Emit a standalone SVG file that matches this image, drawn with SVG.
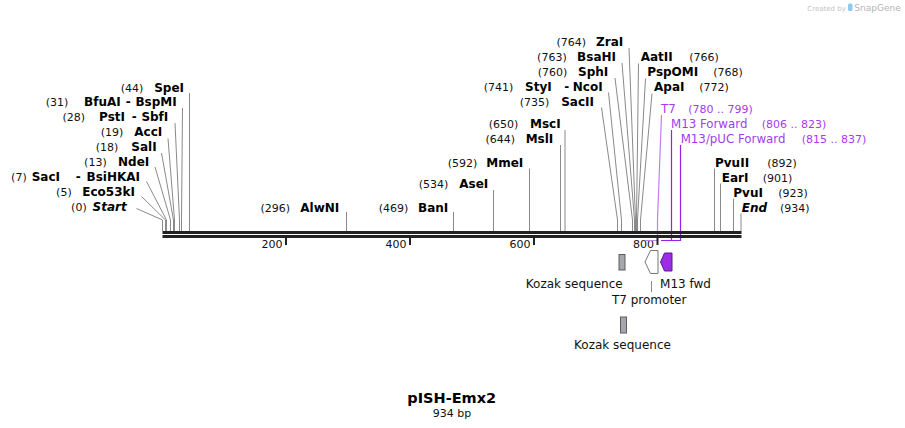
<svg xmlns="http://www.w3.org/2000/svg" width="905" height="428" viewBox="0 0 905 428">
<style>
text{font-family:"DejaVu Sans",Verdana,sans-serif}
.n{font-size:11px;fill:#111}
.b{font-size:12px;font-weight:bold;fill:#000}
.bi{font-size:12px;font-weight:bold;font-style:italic;fill:#000}
.e{text-anchor:end}
.m{text-anchor:middle}
.p{font-size:11px;fill:#a43bf0}
.pn{font-size:11.8px;fill:#a43bf0}
.f{font-size:12px;fill:#111;text-anchor:middle}
.site{fill:none;stroke:#8a8a8a;stroke-width:1}
.pt7{fill:none;stroke:#c27ef3;stroke-width:1.2}
.pm{fill:none;stroke:#9b1fe8;stroke-width:1.2}
.bb{fill:#222}
.tick{stroke:#222;stroke-width:2}
.kozak{fill:#a4a7ab;stroke:#5c5c5c;stroke-width:1}
</style>
<rect width="905" height="428" fill="#fff"/>

<g id="logo">
<text x="807.3" y="10.5" style="font-size:7px;fill:#c4c4c4">Created by</text>
<rect x="848" y="3.5" width="4.5" height="7.5" rx="1.5" fill="#8ccaf0"/>
<text x="854.3" y="10.7" style="font-size:9px;fill:#b4b4b4">SnapGene</text>
</g>

<g id="scale">
<text class="n e" x="282.5" y="248">200</text>
<text class="n e" x="406.5" y="248">400</text>
<text class="n e" x="530.5" y="248">600</text>
<text class="n e" x="654" y="248">800</text>
</g>

<g id="connectors">
<path class="site" d="M136.5,208.5 L162.5,220 V231"/>
<path class="site" d="M141.5,196.5 L165.5,220 V231"/>
<path class="site" d="M146.5,181.5 L166.5,220 V231"/>
<path class="site" d="M155,167 L170.5,220 V231"/>
<path class="site" d="M161.5,153 L173.5,220 V231"/>
<path class="site" d="M168,138.5 L174.5,220 V231"/>
<path class="site" d="M175,123 L179.5,220 V231"/>
<path class="site" d="M182.5,108 L181.5,220 V231"/>
<path class="site" d="M189.5,93 V231"/>
<path class="site" d="M346.5,212 V231"/>
<path class="site" d="M453.5,212 V231"/>
<path class="site" d="M493.5,190 V231"/>
<path class="site" d="M529.5,168.5 V231"/>
<path class="site" d="M560.5,145 V231"/>
<path class="site" d="M565,130 V231"/>
<path class="site" d="M601.5,107.5 L617.5,220 V231"/>
<path class="site" d="M608.5,92.5 L621.5,220 V231"/>
<path class="site" d="M615,78 L632.5,220 V231"/>
<path class="site" d="M622,63 L634.5,220 V231"/>
<path class="site" d="M629,48 L635.5,220 V231"/>
<path class="site" d="M638.5,63.5 L636.5,220 V231"/>
<path class="site" d="M645.5,78.5 L637.5,220 V231"/>
<path class="site" d="M652,93.5 L640.5,220 V231"/>
<path class="site" d="M714.5,168.5 V231"/>
<path class="site" d="M720.5,183.5 V231"/>
<path class="site" d="M733.5,198.5 V231"/>
<path class="site" d="M741,213.5 V231"/>
<path class="pt7" d="M661.5,115 L657.5,220 V240.5 H644.5"/>
<path class="pm" d="M671.5,130 V240.5 H661"/>
<path class="pm" d="M680.5,145 V240.5 H666"/>
<path class="site" d="M651.5,281 V292"/>
</g>

<g id="backbone">
<rect class="bb" x="162.5" y="231" width="579" height="3"/>
<rect class="bb" x="162.5" y="235" width="579" height="3"/>
<line class="tick" x1="286" y1="237" x2="286" y2="245"/>
<line class="tick" x1="410" y1="237" x2="410" y2="245"/>
<line class="tick" x1="534" y1="237" x2="534" y2="245"/>
<line class="tick" x1="657.5" y1="237" x2="657.5" y2="245"/>
</g>

<g id="site-Start"><text class="n e" x="86.7" y="211">(0)</text><text class="bi e" x="126.7" y="211">Start</text></g>
<g id="site-Eco53kI"><text class="n e" x="71.7" y="196">(5)</text><text class="b e" x="135" y="196">Eco53kI</text></g>
<g id="site-SacI"><text class="n e" x="26.7" y="181">(7)</text><text class="b e" x="60" y="181">SacI</text><text class="b m" x="78.3" y="181">-</text><text class="b e" x="140" y="181">BsiHKAI</text></g>
<g id="site-NdeI"><text class="n e" x="106.7" y="166">(13)</text><text class="b e" x="149.3" y="166">NdeI</text></g>
<g id="site-SalI"><text class="n e" x="118.3" y="151">(18)</text><text class="b e" x="156.7" y="151">SalI</text></g>
<g id="site-AccI"><text class="n e" x="123.3" y="136">(19)</text><text class="b e" x="162.3" y="136">AccI</text></g>
<g id="site-PstI"><text class="n e" x="85" y="121">(28)</text><text class="b e" x="125" y="121">PstI</text><text class="b m" x="134.2" y="121">-</text><text class="b e" x="168.3" y="121">SbfI</text></g>
<g id="site-BfuAI"><text class="n e" x="68.3" y="106">(31)</text><text class="b e" x="120.7" y="106">BfuAI</text><text class="b m" x="128.3" y="106">-</text><text class="b e" x="176.7" y="106">BspMI</text></g>
<g id="site-SpeI"><text class="n e" x="143.3" y="91.5">(44)</text><text class="b e" x="184" y="91.5">SpeI</text></g>

<g id="site-AlwNI"><text class="n e" x="290" y="211.5">(296)</text><text class="b e" x="339.3" y="211.5">AlwNI</text></g>
<g id="site-BanI"><text class="n e" x="408.3" y="211.5">(469)</text><text class="b e" x="448.3" y="211.5">BanI</text></g>
<g id="site-AseI"><text class="n e" x="448.3" y="187.5">(534)</text><text class="b e" x="488.3" y="187.5">AseI</text></g>
<g id="site-MmeI"><text class="n e" x="477.3" y="166.5">(592)</text><text class="b e" x="523.3" y="166.5">MmeI</text></g>
<g id="site-MslI"><text class="n e" x="515" y="143">(644)</text><text class="b e" x="553.3" y="143">MslI</text></g>
<g id="site-MscI"><text class="n e" x="518.3" y="128">(650)</text><text class="b e" x="560.7" y="128">MscI</text></g>
<g id="site-SacII"><text class="n e" x="549.3" y="106">(735)</text><text class="b e" x="594" y="106">SacII</text></g>
<g id="site-StyI"><text class="n e" x="513.3" y="91">(741)</text><text class="b e" x="551.7" y="91">StyI</text><text class="b m" x="566.7" y="91">-</text><text class="b e" x="602.7" y="91">NcoI</text></g>
<g id="site-SphI"><text class="n e" x="567.3" y="76">(760)</text><text class="b e" x="608.3" y="76">SphI</text></g>
<g id="site-BsaHI"><text class="n e" x="566.7" y="61">(763)</text><text class="b e" x="616" y="61">BsaHI</text></g>
<g id="site-ZraI"><text class="n e" x="586" y="46">(764)</text><text class="b e" x="623.3" y="46">ZraI</text></g>

<g id="site-AatII"><text class="b" x="640.7" y="61">AatII</text><text class="n" x="689.3" y="61">(766)</text></g>
<g id="site-PspOMI"><text class="b" x="647.3" y="76">PspOMI</text><text class="n" x="713.3" y="76">(768)</text></g>
<g id="site-ApaI"><text class="b" x="654" y="91">ApaI</text><text class="n" x="699.3" y="91">(772)</text></g>

<g id="primer-T7"><text class="pn" x="661" y="112.5">T7</text><text class="p" x="688.3" y="112.5">(780 .. 799)</text></g>
<g id="primer-M13F"><text class="pn" x="671" y="127.5">M13 Forward</text><text class="p" x="761.7" y="127.5">(806 .. 823)</text></g>
<g id="primer-M13pUC"><text class="pn" x="680.7" y="143">M13/pUC Forward</text><text class="p" x="801.7" y="143">(815 .. 837)</text></g>

<g id="site-PvuII"><text class="b" x="715" y="166.5">PvuII</text><text class="n" x="767.3" y="166.5">(892)</text></g>
<g id="site-EarI"><text class="b" x="721.7" y="181.5">EarI</text><text class="n" x="762.7" y="181.5">(901)</text></g>
<g id="site-PvuI"><text class="b" x="733.3" y="196.5">PvuI</text><text class="n" x="778.3" y="196.5">(923)</text></g>
<g id="site-End"><text class="bi" x="741.7" y="211.5">End</text><text class="n" x="780" y="211.5">(934)</text></g>

<g id="feature-Kozak1">
<rect class="kozak" x="619" y="254.5" width="6" height="15.5"/>
<text class="f" x="574.2" y="287.5">Kozak sequence</text>
</g>
<g id="feature-T7promoter">
<polygon points="658,250.5 650.5,250.5 645,262 650.5,273.5 658,273.5" fill="#fff" stroke="#777" stroke-width="1"/>
<text class="f" x="649.2" y="303.5">T7 promoter</text>
</g>
<g id="feature-M13fwd">
<polygon points="672,253 664.5,253 660.5,262 664.5,271 672,271" fill="#9b2de6" stroke="#5a1a8a" stroke-width="1"/>
<text class="f" x="685.5" y="287.5">M13 fwd</text>
</g>
<g id="feature-Kozak2">
<rect class="kozak" x="620.5" y="317" width="6" height="16"/>
<text class="f" x="622.5" y="348.5">Kozak sequence</text>
</g>

<g id="title">
<text x="451.7" y="403" style="font-size:14.5px;font-weight:bold;fill:#000;text-anchor:middle">pISH-Emx2</text>
<text x="452" y="416.5" style="font-size:11px;fill:#111;text-anchor:middle">934 bp</text>
</g>
</svg>
